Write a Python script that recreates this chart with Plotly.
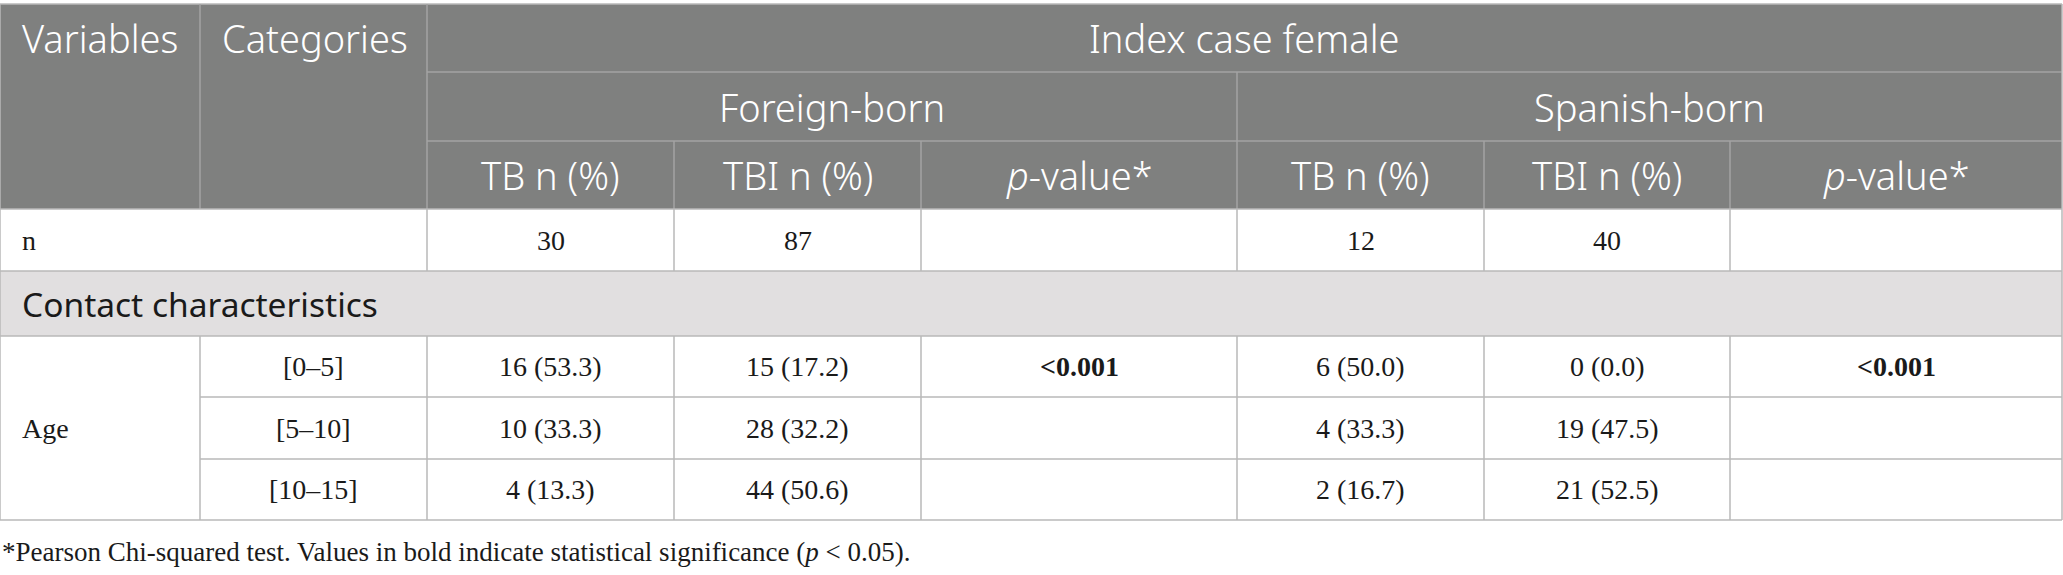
import plotly.graph_objects as go

# ---------------- data ----------------
title_top = "Index case female"
col_variables = "Variables"
col_categories = "Categories"
groups = ["Foreign-born", "Spanish-born"]
sub_columns = ["TB n (%)", "TBI n (%)", "<i>p</i>-value*"]

n_label = "n"
n_foreign = [30, 87]
n_spanish = [12, 40]

section_label = "Contact characteristics"
variable_age = "Age"
age_categories = ["[0–5]", "[5–10]", "[10–15]"]

foreign_tb_n = [16, 10, 4]
foreign_tb_pct = [53.3, 33.3, 13.3]
foreign_tbi_n = [15, 28, 44]
foreign_tbi_pct = [17.2, 32.2, 50.6]
foreign_p = ["&lt;0.001", "", ""]

spanish_tb_n = [6, 4, 2]
spanish_tb_pct = [50.0, 33.3, 16.7]
spanish_tbi_n = [0, 19, 21]
spanish_tbi_pct = [0.0, 47.5, 52.5]
spanish_p = ["&lt;0.001", "", ""]

footnote = ("*Pearson Chi-squared test. Values in bold indicate statistical "
            "significance (<i>p</i> &lt; 0.05).")

# ---------------- layout geometry ----------------
W, H = 2063, 575
col_edges = [0, 200, 427, 674, 921, 1237, 1484, 1730, 2062]
row_edges = [4, 72, 141, 209, 271, 336, 397, 459, 520]

HEADER_BG = "#7f807f"
HEADER_LINE = "#a3a3a3"
BODY_LINE = "#b9b9b9"
SECTION_BG = "#e1dfe0"
SANS = "Noto Sans"
SERIF = "Liberation Serif"

fig = go.Figure()
shapes = []
annotations = []


def rect(x0, x1, y0, y1, color):
    shapes.append(dict(type="rect", xref="x", yref="y", x0=x0, x1=x1, y0=y0, y1=y1,
                       fillcolor=color, line=dict(width=0), layer="below"))


def hline(x0, x1, y, color, w=1.5):
    shapes.append(dict(type="line", xref="x", yref="y", x0=x0, x1=x1, y0=y, y1=y,
                       line=dict(color=color, width=w)))


def vline(x, y0, y1, color, w=1.5):
    shapes.append(dict(type="line", xref="x", yref="y", x0=x, x1=x, y0=y0, y1=y1,
                       line=dict(color=color, width=w)))


def text(x, y, s, family, size, color, anchor="center", weight=None):
    font = dict(family=family, size=size, color=color)
    if weight is not None:
        font["weight"] = weight
    annotations.append(dict(x=x, y=y, xref="x", yref="y", text=s, showarrow=False,
                            xanchor=anchor, yanchor="middle", font=font))


def cx(i, j=None):
    j = i + 1 if j is None else j
    return (col_edges[i] + col_edges[j]) / 2


def cy(i, j=None):
    j = i + 1 if j is None else j
    return (row_edges[i] + row_edges[j]) / 2


# backgrounds
rect(col_edges[0], col_edges[-1], row_edges[0], row_edges[3], HEADER_BG)
rect(col_edges[0], col_edges[-1], row_edges[4], row_edges[5], SECTION_BG)

# header lines
hline(col_edges[0], col_edges[-1], row_edges[0], BODY_LINE)
hline(col_edges[2], col_edges[-1], row_edges[1], HEADER_LINE)
hline(col_edges[2], col_edges[-1], row_edges[2], HEADER_LINE)
vline(col_edges[1], row_edges[0], row_edges[3], HEADER_LINE)
vline(col_edges[2], row_edges[0], row_edges[3], HEADER_LINE)
vline(col_edges[5], row_edges[1], row_edges[3], HEADER_LINE)
for k in (3, 4, 6, 7):
    vline(col_edges[k], row_edges[2], row_edges[3], HEADER_LINE)

# body lines
for r in (3, 4, 5, 8):
    hline(col_edges[0], col_edges[-1], row_edges[r], BODY_LINE)
for r in (6, 7):
    hline(col_edges[1], col_edges[-1], row_edges[r], BODY_LINE)
vline(col_edges[0], row_edges[0], row_edges[8], BODY_LINE)
vline(col_edges[-1], row_edges[0], row_edges[8], BODY_LINE)
for k in range(2, 8):
    vline(col_edges[k], row_edges[3], row_edges[4], BODY_LINE)
for k in range(1, 8):
    vline(col_edges[k], row_edges[5], row_edges[8], BODY_LINE)

# header text
HS = 38
HW = 300
text(col_edges[0] + 20, cy(0), col_variables, SANS, HS, "white", "left", HW)
text(col_edges[1] + 20, cy(0), col_categories, SANS, HS, "white", "left", HW)
text(cx(2, 8), cy(0), title_top, SANS, HS, "white", weight=HW)
text(cx(2, 5), cy(1), groups[0], SANS, HS, "white", weight=HW)
text(cx(5, 8), cy(1), groups[1], SANS, HS, "white", weight=HW)
for g in range(2):
    for k, lab in enumerate(sub_columns):
        text(cx(2 + 3 * g + k), cy(2), lab, SANS, HS, "white", weight=HW)

# body text
BS = 28
BC = "#1a1a1a"
text(col_edges[0] + 20, cy(3), n_label, SERIF, BS, BC, "left")
n_all = [str(n_foreign[0]), str(n_foreign[1]), "", str(n_spanish[0]), str(n_spanish[1]), ""]
for k, v in enumerate(n_all):
    if v:
        text(cx(2 + k), cy(3), v, SERIF, BS, BC)

text(col_edges[0] + 20, cy(4), section_label, SANS, 33.5, BC, "left")

text(col_edges[0] + 20, cy(5, 8), variable_age, SERIF, BS, BC, "left")
for i, cat in enumerate(age_categories):
    r = 5 + i
    vals = [
        f"{foreign_tb_n[i]} ({foreign_tb_pct[i]:.1f})",
        f"{foreign_tbi_n[i]} ({foreign_tbi_pct[i]:.1f})",
        f"<b>{foreign_p[i]}</b>" if foreign_p[i] else "",
        f"{spanish_tb_n[i]} ({spanish_tb_pct[i]:.1f})",
        f"{spanish_tbi_n[i]} ({spanish_tbi_pct[i]:.1f})",
        f"<b>{spanish_p[i]}</b>" if spanish_p[i] else "",
    ]
    text(cx(1), cy(r), cat, SERIF, BS, BC)
    for k, v in enumerate(vals):
        if v:
            text(cx(2 + k), cy(r), v, SERIF, BS, BC)

text(0, 552, footnote, SERIF, 27, BC, "left")

fig.update_layout(
    width=W, height=H,
    margin=dict(l=0, r=0, t=0, b=0),
    paper_bgcolor="white", plot_bgcolor="white",
    xaxis=dict(range=[0, W], visible=False, fixedrange=True),
    yaxis=dict(range=[H, 0], visible=False, fixedrange=True),
    shapes=shapes, annotations=annotations, showlegend=False,
)

fig.write_html("out.html", post_script="document.body.style.margin='0px';",
               config={"displayModeBar": False})
